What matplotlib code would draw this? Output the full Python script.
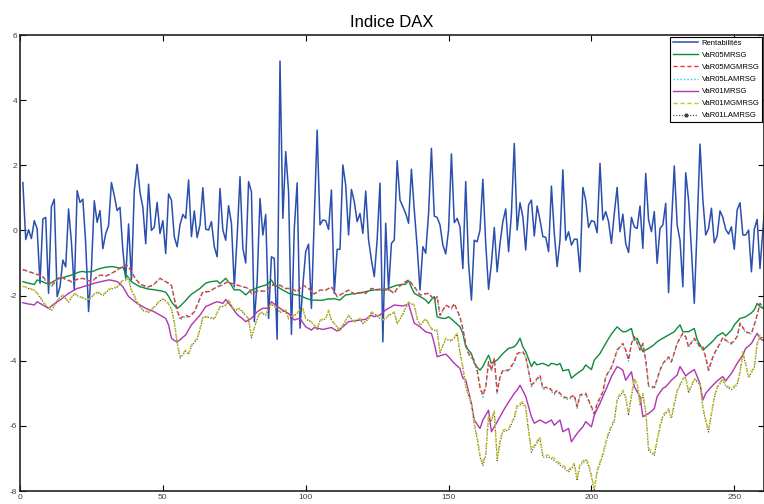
import numpy as np
import matplotlib
matplotlib.use("Agg")
import matplotlib.pyplot as plt
from matplotlib.lines import Line2D

plt.rcParams['font.family'] = ['Liberation Sans', 'DejaVu Sans']
plt.rcParams['axes.unicode_minus'] = False

title = "Indice DAX"
labels = ["Rentabilités", "VaR05MRSG", "VaR05MGMRSG", "VaR05LAMRSG",
          "VaR01MRSG", "VaR01MGMRSG", "VaR01LAMRSG"]
xticks = [0, 50, 100, 150, 200, 250]
yticks = [-8, -6, -4, -2, 0, 2, 4, 6]

rentabilites = [
    1.47, -0.28, 0.02, -0.25, 0.30, 0.05, -1.62, 0.35, 0.40, -1.93,
    0.73, 0.96, -2.03, -1.73, -0.91, -1.12, 0.66, -0.36, -1.83, 1.22,
    0.86, 0.96, -0.41, -2.49, -1.17, 0.91, 0.25, 0.61, -0.56, -0.10,
    0.15, 1.47, 1.07, 0.61, 0.71, -0.61, -1.47, 0.20, -1.52, 1.22,
    2.03, 1.17, 0.71, -0.41, 1.42, 0.00, 0.10, 0.86, -0.10, 0.30,
    -0.71, 1.12, 0.93, -0.19, -0.50, 0.17, 0.49, 0.37, 1.55, -0.19,
    0.60, -0.22, 0.17, 1.31, 0.04, 0.01, 0.27, -0.50, -0.81, 1.29,
    0.01, -0.30, 0.76, 0.22, -1.73, -0.20, 1.65, -0.55, -1.00, 1.50,
    1.19, -2.80, -1.57, 0.98, -0.14, 0.49, -2.70, -0.81, -0.86, -3.34,
    5.20, 0.37, 2.42, 1.19, -3.19, 0.06, 1.46, -3.00, -1.68, -0.65,
    -0.42, -2.39, 0.40, 3.08, 0.17, 0.32, 0.30, 0.03, 1.24, -1.93,
    -0.58, -0.58, 2.01, 1.39, -0.14, 1.26, 0.88, 0.27, 0.52, -0.09,
    1.21, -0.29, -0.91, -1.42, -0.29, 1.45, -3.42, 0.22, -1.83, -0.40,
    -0.29, 2.14, 0.93, 0.73, 0.52, 0.22, 1.88, 0.63, -0.50, -1.83,
    -0.50, -0.70, 0.52, 2.52, 0.44, 0.40, 0.17, -0.45, -0.72, 0.01,
    2.35, 0.24, 0.37, 0.11, -1.17, 1.50, -1.01, -2.14, -0.30, -0.35,
    0.01, 1.57, -0.40, -1.81, -1.01, 0.09, -1.27, -0.40, 0.27, 0.66,
    -0.65, 0.52, 2.67, 0.01, 0.85, 0.42, -0.60, 0.78, 0.93, -0.17,
    0.75, 0.32, -0.19, -0.21, -0.65, 1.36, -0.09, -1.11, -0.30, 1.86,
    -0.30, -0.04, -0.45, -0.27, -0.27, -1.27, 1.32, 0.93, 0.09, 0.30,
    0.27, -0.07, 2.06, 0.32, 0.58, 0.27, -0.40, 0.52, 1.32, -0.04,
    0.50, -0.40, -0.68, 0.40, 0.11, 0.06, 0.75, -0.55, 1.75, 0.32,
    -0.04, 0.58, -1.01, 0.06, 0.17, 0.83, -1.91, 0.17, 1.98, 0.17,
    -0.30, -1.73, 1.77, 0.93, -0.60, -2.24, 0.11, 2.65, 0.95, -0.14,
    0.06, 0.68, -0.38, -0.17, 0.60, 0.40, 0.03, -0.11, 0.11, -0.58,
    0.63, 0.85, -0.14, -0.14, 0.01, -1.27, 0.03, 0.34, -1.17, 0.01,
    1.09]

var05_mrsg = [
    -1.57, -1.60, -1.62, -1.64, -1.66, -1.52, -1.55, -1.58, -1.62, -1.65,
    -1.60, -1.55, -1.50, -1.47, -1.45, -1.42, -1.40, -1.37, -1.34, -1.30,
    -1.27, -1.26, -1.28, -1.27, -1.27, -1.24, -1.20, -1.17, -1.15, -1.13,
    -1.12, -1.11, -1.12, -1.14, -1.16, -1.12, -1.35, -1.45, -1.57, -1.63,
    -1.68, -1.73, -1.75, -1.78, -1.80, -1.81, -1.82, -1.84, -1.85, -1.87,
    -1.90, -2.02, -2.19, -2.30, -2.39, -2.33, -2.24, -2.15, -2.05, -1.96,
    -1.90, -1.84, -1.78, -1.70, -1.62, -1.59, -1.57, -1.56, -1.55, -1.63,
    -1.55, -1.47, -1.58, -1.68, -1.83, -1.82, -1.83, -1.90, -1.98, -1.90,
    -1.83, -1.80, -1.76, -1.73, -1.70, -1.68, -1.62, -1.52, -1.68, -1.72,
    -1.78, -1.83, -1.88, -1.93, -1.95, -1.97, -1.98, -2.00, -2.04, -2.08,
    -2.11, -2.14, -2.14, -2.14, -2.15, -2.14, -2.12, -2.10, -2.11, -2.09,
    -2.12, -2.14, -2.05, -1.98, -1.97, -1.95, -1.94, -1.93, -1.91, -1.90,
    -1.88, -1.86, -1.84, -1.83, -1.81, -1.82, -1.84, -1.83, -1.78, -1.74,
    -1.71, -1.68, -1.67, -1.66, -1.65, -1.54, -1.75, -1.93, -1.98, -2.03,
    -2.08, -2.14, -2.24, -2.12, -2.03, -2.65, -2.68, -2.70, -2.70, -2.65,
    -2.72, -2.80, -2.88, -2.96, -3.16, -3.57, -3.68, -3.78, -4.08, -4.20,
    -4.29, -4.18, -4.00, -3.83, -4.08, -4.03, -3.98, -3.88, -3.78, -3.70,
    -3.62, -3.60, -3.57, -3.47, -3.31, -3.57, -3.72, -3.95, -4.18, -4.03,
    -4.13, -4.10, -4.08, -4.12, -4.16, -4.08, -4.10, -4.13, -4.08, -4.31,
    -4.29, -4.27, -4.54, -4.46, -4.39, -4.33, -4.27, -4.13, -4.20, -4.27,
    -3.98, -3.88, -3.78, -3.62, -3.47, -3.32, -3.18, -3.07, -2.96, -3.04,
    -3.11, -3.11, -3.06, -3.01, -3.37, -3.31, -3.52, -3.72, -3.67, -3.62,
    -3.57, -3.50, -3.42, -3.36, -3.31, -3.26, -3.21, -3.16, -3.11, -3.00,
    -2.90, -3.11, -3.11, -3.11, -3.06, -3.01, -3.35, -3.51, -3.67, -3.60,
    -3.52, -3.44, -3.35, -3.24, -3.19, -3.14, -3.24, -3.15, -3.06, -2.90,
    -2.80, -2.70, -2.68, -2.65, -2.59, -2.53, -2.44, -2.24, -2.34, -2.39,
    -2.44]

var05_mgmrsg = [
    -1.20, -1.23, -1.26, -1.29, -1.32, -1.35, -1.38, -1.42, -1.52, -1.62,
    -1.71, -1.60, -1.50, -1.42, -1.45, -1.50, -1.53, -1.57, -1.54, -1.50,
    -1.48, -1.47, -1.50, -1.54, -1.57, -1.50, -1.42, -1.37, -1.38, -1.40,
    -1.36, -1.31, -1.27, -1.21, -1.16, -1.10, -1.06, -1.11, -1.27, -1.42,
    -1.54, -1.65, -1.68, -1.71, -1.73, -1.69, -1.65, -1.55, -1.47, -1.52,
    -1.57, -1.62, -1.68, -2.09, -2.44, -2.70, -2.65, -2.60, -2.65, -2.58,
    -2.50, -2.29, -2.08, -1.88, -1.88, -1.88, -1.83, -1.78, -1.73, -1.70,
    -1.66, -1.61, -1.57, -1.63, -1.65, -1.68, -1.70, -1.73, -1.75, -1.78,
    -1.93, -1.90, -1.86, -1.86, -1.86, -1.86, -1.77, -1.68, -1.68, -1.68,
    -1.68, -1.73, -1.78, -1.78, -1.78, -1.83, -1.88, -1.78, -1.68, -1.73,
    -1.78, -1.86, -1.95, -1.89, -1.83, -1.83, -1.83, -1.78, -1.73, -1.88,
    -2.03, -1.98, -1.93, -1.88, -1.83, -1.89, -1.95, -1.93, -1.91, -1.92,
    -1.93, -1.85, -1.78, -1.80, -1.83, -1.80, -1.78, -1.80, -1.81, -1.87,
    -1.93, -1.78, -1.70, -1.63, -1.57, -1.52, -1.62, -1.73, -1.85, -1.98,
    -1.96, -1.94, -1.93, -2.03, -2.14, -2.03, -2.60, -2.45, -2.29, -2.34,
    -2.39, -2.24, -2.45, -2.65, -3.01, -3.47, -3.78, -3.88, -3.98, -4.29,
    -4.80, -5.05, -4.80, -4.03, -4.29, -3.93, -4.95, -4.49, -4.29, -4.29,
    -4.29, -4.16, -4.03, -3.78, -3.75, -3.72, -3.88, -4.30, -4.75, -4.65,
    -4.55, -4.44, -4.85, -4.82, -4.80, -4.90, -5.00, -4.90, -5.00, -5.10,
    -5.13, -5.16, -5.10, -5.05, -5.41, -5.05, -5.02, -5.00, -5.21, -5.40,
    -5.62, -5.31, -5.13, -4.95, -4.49, -4.34, -4.20, -3.95, -3.67, -3.57,
    -3.47, -3.67, -3.98, -3.47, -3.26, -3.45, -3.67, -3.47, -3.98, -4.75,
    -4.78, -4.82, -4.55, -4.29, -4.08, -3.98, -3.88, -4.03, -3.75, -3.47,
    -3.30, -3.16, -3.26, -3.57, -3.44, -3.31, -3.44, -3.57, -3.57, -3.90,
    -4.29, -4.00, -3.78, -3.62, -3.47, -3.28, -3.37, -3.42, -3.47, -3.37,
    -3.26, -2.85, -2.98, -3.11, -3.14, -3.16, -2.90, -2.60, -2.24, -2.34,
    -2.44]

var05_lamrsg = [
    -1.21, -1.24, -1.27, -1.30, -1.33, -1.36, -1.40, -1.44, -1.55, -1.66,
    -1.74, -1.62, -1.51, -1.43, -1.46, -1.51, -1.55, -1.58, -1.55, -1.51,
    -1.49, -1.48, -1.51, -1.55, -1.58, -1.51, -1.43, -1.38, -1.39, -1.41,
    -1.37, -1.32, -1.28, -1.22, -1.17, -1.11, -1.07, -1.12, -1.29, -1.44,
    -1.56, -1.67, -1.70, -1.73, -1.75, -1.71, -1.66, -1.56, -1.48, -1.53,
    -1.58, -1.64, -1.70, -2.12, -2.48, -2.75, -2.69, -2.63, -2.68, -2.61,
    -2.52, -2.31, -2.10, -1.90, -1.89, -1.89, -1.84, -1.79, -1.74, -1.71,
    -1.67, -1.62, -1.58, -1.64, -1.66, -1.69, -1.71, -1.74, -1.76, -1.79,
    -1.95, -1.91, -1.87, -1.87, -1.87, -1.87, -1.78, -1.69, -1.69, -1.69,
    -1.69, -1.74, -1.79, -1.79, -1.79, -1.84, -1.89, -1.79, -1.69, -1.74,
    -1.79, -1.87, -1.96, -1.90, -1.84, -1.84, -1.84, -1.79, -1.74, -1.89,
    -2.04, -1.99, -1.94, -1.89, -1.84, -1.90, -1.96, -1.94, -1.92, -1.93,
    -1.94, -1.86, -1.79, -1.81, -1.84, -1.81, -1.79, -1.81, -1.82, -1.88,
    -1.94, -1.79, -1.71, -1.64, -1.58, -1.53, -1.63, -1.74, -1.86, -1.99,
    -1.97, -1.95, -1.94, -2.04, -2.15, -2.05, -2.64, -2.47, -2.31, -2.36,
    -2.41, -2.26, -2.48, -2.69, -3.05, -3.52, -3.82, -3.92, -4.02, -4.34,
    -4.86, -5.12, -4.85, -4.06, -4.33, -3.96, -5.00, -4.53, -4.32, -4.32,
    -4.32, -4.19, -4.06, -3.80, -3.77, -3.74, -3.91, -4.34, -4.80, -4.69,
    -4.59, -4.48, -4.89, -4.86, -4.84, -4.94, -5.04, -4.94, -5.04, -5.14,
    -5.17, -5.20, -5.14, -5.09, -5.46, -5.09, -5.06, -5.04, -5.25, -5.45,
    -5.67, -5.35, -5.17, -4.99, -4.52, -4.37, -4.23, -3.98, -3.70, -3.59,
    -3.49, -3.70, -4.01, -3.49, -3.28, -3.47, -3.70, -3.49, -4.01, -4.79,
    -4.82, -4.86, -4.59, -4.32, -4.11, -4.01, -3.91, -4.06, -3.77, -3.49,
    -3.32, -3.18, -3.28, -3.60, -3.46, -3.33, -3.46, -3.60, -3.60, -3.93,
    -4.33, -4.03, -3.81, -3.64, -3.49, -3.30, -3.39, -3.44, -3.49, -3.39,
    -3.28, -2.87, -3.00, -3.13, -3.16, -3.18, -2.92, -2.62, -2.26, -2.36,
    -2.46]

var01_mrsg = [
    -2.22, -2.24, -2.26, -2.27, -2.29, -2.19, -2.24, -2.29, -2.34, -2.39,
    -2.32, -2.25, -2.19, -2.14, -2.07, -2.00, -1.93, -1.88, -1.83, -1.78,
    -1.76, -1.73, -1.70, -1.68, -1.65, -1.62, -1.60, -1.58, -1.56, -1.54,
    -1.52, -1.53, -1.55, -1.57, -1.64, -1.73, -1.88, -2.03, -2.10, -2.17,
    -2.24, -2.29, -2.34, -2.39, -2.43, -2.46, -2.50, -2.55, -2.60, -2.65,
    -2.70, -2.90, -3.31, -3.38, -3.42, -3.36, -3.28, -3.21, -3.05, -2.90,
    -2.80, -2.70, -2.60, -2.47, -2.34, -2.30, -2.26, -2.22, -2.19, -2.21,
    -2.24, -2.12, -2.23, -2.34, -2.46, -2.58, -2.65, -2.72, -2.80, -2.75,
    -2.70, -2.60, -2.50, -2.44, -2.39, -2.39, -2.39, -2.19, -2.26, -2.33,
    -2.39, -2.45, -2.50, -2.55, -2.65, -2.75, -2.72, -2.70, -2.83, -2.96,
    -3.01, -3.06, -2.98, -3.00, -3.02, -3.04, -3.02, -3.00, -2.98, -3.04,
    -3.09, -3.02, -2.96, -2.88, -2.80, -2.79, -2.77, -2.76, -2.75, -2.74,
    -2.73, -2.66, -2.60, -2.65, -2.62, -2.60, -2.52, -2.44, -2.39, -2.34,
    -2.29, -2.30, -2.31, -2.32, -2.29, -2.26, -2.55, -2.85, -2.90, -2.96,
    -3.04, -3.11, -3.14, -3.16, -3.47, -3.88, -3.85, -3.82, -3.80, -3.88,
    -3.98, -4.08, -4.16, -4.24, -4.54, -4.59, -4.95, -5.31, -5.82, -5.95,
    -6.08, -5.82, -5.67, -5.52, -6.18, -6.03, -5.88, -5.72, -5.56, -5.41,
    -5.27, -5.14, -5.00, -4.90, -4.75, -4.92, -5.10, -5.41, -5.72, -5.92,
    -5.87, -5.82, -5.87, -5.92, -5.87, -5.82, -5.98, -5.90, -5.82, -6.18,
    -6.13, -6.08, -6.49, -6.36, -6.23, -6.13, -6.03, -5.87, -5.95, -6.03,
    -5.67, -5.49, -5.31, -5.10, -4.90, -4.70, -4.49, -4.33, -4.18, -4.23,
    -4.29, -4.60, -4.47, -4.34, -4.80, -4.95, -5.10, -5.72, -5.67, -5.62,
    -5.55, -5.47, -5.10, -4.97, -4.85, -4.80, -4.70, -4.60, -4.52, -4.44,
    -4.18, -4.32, -4.47, -4.39, -4.33, -4.27, -4.48, -4.70, -5.21, -5.00,
    -4.90, -4.80, -4.71, -4.62, -4.55, -4.49, -4.62, -4.50, -4.39, -4.24,
    -4.08, -3.95, -3.83, -3.62, -3.55, -3.47, -3.31, -3.16, -3.31, -3.38,
    -3.45]

var01_mgmrsg = [
    -1.71, -1.74, -1.77, -1.80, -1.83, -1.92, -2.03, -2.16, -2.29, -2.37,
    -2.44, -2.30, -2.15, -2.03, -1.98, -2.08, -2.19, -2.05, -1.93, -1.98,
    -2.03, -2.06, -2.09, -2.12, -2.03, -1.95, -1.88, -1.93, -1.98, -1.90,
    -1.81, -1.78, -1.75, -1.73, -1.62, -1.52, -1.50, -1.47, -1.83, -2.00,
    -2.19, -2.32, -2.44, -2.47, -2.50, -2.42, -2.34, -2.24, -2.14, -2.10,
    -2.15, -2.24, -2.40, -2.80, -3.42, -3.88, -3.78, -3.67, -3.77, -3.52,
    -3.42, -3.31, -3.01, -2.65, -2.65, -2.65, -2.68, -2.70, -2.52, -2.34,
    -2.31, -2.29, -2.14, -2.29, -2.44, -2.41, -2.39, -2.50, -2.60, -2.70,
    -3.26, -2.98, -2.70, -2.50, -2.54, -2.58, -2.39, -2.24, -2.31, -2.39,
    -2.50, -2.47, -2.44, -2.70, -2.65, -2.60, -2.52, -2.44, -2.39, -2.70,
    -2.75, -2.80, -2.90, -3.01, -2.75, -2.72, -2.70, -2.44, -2.75, -2.85,
    -2.95, -3.06, -2.90, -2.75, -2.60, -2.70, -2.80, -2.75, -2.70, -2.85,
    -2.78, -2.70, -2.50, -2.55, -2.60, -2.68, -2.75, -2.68, -2.60, -2.55,
    -2.50, -2.85, -2.70, -2.55, -2.37, -2.19, -2.24, -2.29, -2.70, -2.90,
    -2.80, -2.70, -2.85, -3.01, -3.04, -3.06, -3.72, -3.52, -3.31, -3.34,
    -3.37, -3.27, -3.16, -3.72, -4.18, -4.75, -5.03, -5.31, -5.92, -6.33,
    -6.90, -7.15, -6.85, -5.67, -5.82, -5.52, -7.00, -6.44, -6.13, -6.10,
    -6.08, -5.90, -5.72, -5.36, -5.31, -5.26, -5.41, -6.10, -6.74, -6.59,
    -6.46, -6.33, -6.90, -6.90, -6.90, -6.95, -7.00, -7.08, -7.15, -7.20,
    -7.28, -7.36, -7.25, -7.15, -7.61, -7.15, -7.08, -7.00, -7.15, -7.50,
    -7.92, -7.36, -7.10, -6.85, -6.49, -6.20, -5.98, -5.82, -5.16, -5.03,
    -4.90, -5.10, -5.62, -5.05, -4.54, -4.70, -5.31, -5.00, -5.52, -6.69,
    -6.77, -6.85, -6.40, -5.98, -5.67, -5.57, -5.47, -5.72, -5.30, -4.90,
    -4.72, -4.54, -4.49, -4.95, -4.75, -4.54, -4.62, -4.70, -5.41, -5.80,
    -6.13, -5.60, -5.10, -4.80, -4.67, -4.54, -4.75, -4.80, -4.85, -4.78,
    -4.70, -4.34, -3.72, -4.08, -4.49, -4.33, -4.18, -3.47, -3.21, -3.29,
    -3.37]

var01_lamrsg = [
    -1.72, -1.75, -1.78, -1.81, -1.84, -1.93, -2.05, -2.18, -2.31, -2.39,
    -2.46, -2.32, -2.17, -2.05, -2.00, -2.10, -2.21, -2.07, -1.95, -2.00,
    -2.05, -2.08, -2.11, -2.14, -2.05, -1.97, -1.90, -1.95, -2.00, -1.92,
    -1.83, -1.80, -1.77, -1.75, -1.64, -1.54, -1.52, -1.49, -1.85, -2.02,
    -2.21, -2.34, -2.46, -2.49, -2.52, -2.44, -2.36, -2.26, -2.16, -2.12,
    -2.17, -2.26, -2.42, -2.83, -3.46, -3.93, -3.82, -3.71, -3.81, -3.56,
    -3.45, -3.34, -3.04, -2.68, -2.67, -2.67, -2.70, -2.72, -2.54, -2.36,
    -2.33, -2.31, -2.16, -2.31, -2.46, -2.43, -2.41, -2.52, -2.62, -2.73,
    -3.30, -3.01, -2.72, -2.52, -2.56, -2.60, -2.41, -2.26, -2.33, -2.41,
    -2.52, -2.49, -2.46, -2.72, -2.67, -2.62, -2.54, -2.46, -2.41, -2.72,
    -2.77, -2.82, -2.92, -3.04, -2.77, -2.74, -2.72, -2.46, -2.77, -2.87,
    -2.97, -3.09, -2.92, -2.77, -2.62, -2.72, -2.82, -2.77, -2.72, -2.87,
    -2.80, -2.72, -2.52, -2.57, -2.62, -2.70, -2.77, -2.70, -2.62, -2.57,
    -2.52, -2.87, -2.72, -2.57, -2.39, -2.21, -2.26, -2.31, -2.72, -2.92,
    -2.82, -2.72, -2.87, -3.04, -3.07, -3.09, -3.76, -3.55, -3.34, -3.37,
    -3.40, -3.30, -3.19, -3.76, -4.22, -4.80, -5.08, -5.36, -5.98, -6.39,
    -6.96, -7.22, -6.91, -5.72, -5.87, -5.57, -7.07, -6.50, -6.18, -6.15,
    -6.13, -5.95, -5.77, -5.41, -5.36, -5.31, -5.46, -6.16, -6.81, -6.65,
    -6.52, -6.39, -6.96, -6.96, -6.96, -7.01, -7.06, -7.14, -7.21, -7.26,
    -7.34, -7.42, -7.31, -7.21, -7.68, -7.21, -7.14, -7.06, -7.21, -7.57,
    -7.99, -7.42, -7.16, -6.91, -6.55, -6.26, -6.04, -5.87, -5.21, -5.08,
    -4.95, -5.15, -5.68, -5.10, -4.58, -4.74, -5.36, -5.05, -5.57, -6.75,
    -6.83, -6.91, -6.46, -6.04, -5.72, -5.62, -5.52, -5.77, -5.35, -4.95,
    -4.76, -4.58, -4.53, -4.99, -4.79, -4.58, -4.66, -4.74, -5.46, -5.86,
    -6.19, -5.65, -5.15, -4.84, -4.71, -4.58, -4.79, -4.84, -4.89, -4.82,
    -4.74, -4.38, -3.76, -4.12, -4.53, -4.37, -4.22, -3.51, -3.25, -3.32,
    -3.40]

series = [rentabilites, var05_mrsg, var05_mgmrsg, var05_lamrsg,
          var01_mrsg, var01_mgmrsg, var01_lamrsg]
styles = [
    dict(color='#2b4fae', linestyle='-', linewidth=1.1),
    dict(color='#0e8a3c', linestyle='-', linewidth=1.0),
    dict(color='#f03030', linestyle=(0, (3, 2)), linewidth=1.0),
    dict(color='#22cccc', linestyle=(0, (1, 1.5)), linewidth=1.0),
    dict(color='#b035b0', linestyle='-', linewidth=1.0),
    dict(color='#c8c820', linestyle=(0, (3, 2)), linewidth=1.0),
    dict(color='#404040', linestyle=(0, (1, 1.5)), linewidth=0.8),
]
# drawing order (last on top)
order = [0, 1, 3, 2, 4, 6, 5]

fig = plt.figure(figsize=(7.64, 5.04), dpi=100)
ax = fig.add_axes([20/764, 13/504, 744/764, 456/504])

for k in order:
    vals = series[k]
    x = np.arange(1, len(vals) + 1)
    ax.plot(x, vals, **styles[k])

handles = []
for k, lab in enumerate(labels):
    st = dict(styles[k])
    if k == 6:
        st.update(marker='.', markersize=4)
    handles.append(Line2D([], [], label=lab, **st))

ax.set_xlim(0, 260.4)
ax.set_ylim(-8, 6)
ax.set_xticks(xticks)
ax.set_yticks(yticks)
ax.tick_params(direction='in', length=4, width=0.8, labelsize=6,
               labelcolor='#404040', top=True, right=True, pad=2)
for sp in ax.spines.values():
    sp.set_color('#222222')
    sp.set_linewidth(1.2)

ax.set_title(title, fontsize=12, pad=6)

leg = ax.legend(handles=handles, loc='upper right', fontsize=5.5,
                frameon=True, fancybox=False, edgecolor='black',
                framealpha=1, borderaxespad=0.2, handlelength=3.3,
                handletextpad=0.4, labelspacing=0.62, borderpad=0.4,
                numpoints=1)
leg.get_frame().set_linewidth(0.8)

fig.savefig('out.png', dpi=100)
